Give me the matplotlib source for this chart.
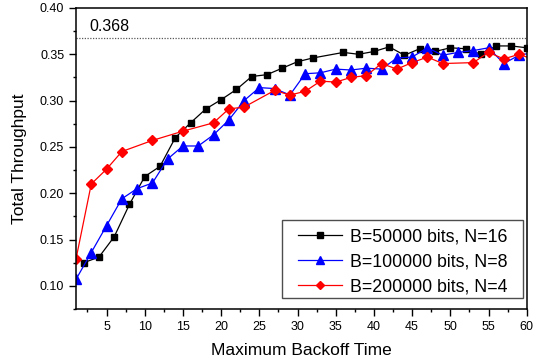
import matplotlib
matplotlib.use("Agg")
import matplotlib.pyplot as plt
from matplotlib.ticker import MultipleLocator
from matplotlib.patches import Rectangle

plt.rcParams["font.family"] = ["Liberation Sans", "DejaVu Sans"]

# B=50000 bits, N=16
x_black = [2, 4, 6, 8, 10, 12, 14, 16, 18, 20, 22, 24, 26, 28, 30, 32,
           36, 38, 40, 42, 44, 46, 48, 50, 52, 54, 56, 58, 60]
y_black = [0.125, 0.131, 0.153, 0.188, 0.218, 0.229, 0.260, 0.276, 0.291,
           0.301, 0.312, 0.326, 0.328, 0.335, 0.342, 0.346,
           0.352, 0.350, 0.353, 0.358, 0.349, 0.356, 0.353, 0.357, 0.356,
           0.350, 0.359, 0.359, 0.357]

# B=100000 bits, N=8
x_blue = [1, 3, 5, 7, 9, 11, 13, 15, 17, 19, 21, 23, 25, 27, 29, 31, 33,
          35, 37, 39, 41, 43, 45, 47, 49, 51, 53, 55, 57, 59, 61]
y_blue = [0.107, 0.136, 0.165, 0.194, 0.205, 0.211, 0.237, 0.251, 0.251,
          0.263, 0.279, 0.300, 0.314, 0.313, 0.306, 0.329, 0.330, 0.334,
          0.333, 0.335, 0.334, 0.346, 0.347, 0.357, 0.349, 0.352, 0.354,
          0.357, 0.340, 0.349, 0.352]

# B=200000 bits, N=4
x_red = [1, 3, 5, 7, 11, 15, 19, 21, 23, 27, 29, 31, 33, 35, 37, 39, 41,
         43, 45, 47, 49, 53, 55, 57, 59, 61]
y_red = [0.129, 0.210, 0.226, 0.245, 0.257, 0.267, 0.276, 0.291, 0.293,
         0.311, 0.306, 0.310, 0.321, 0.320, 0.325, 0.327, 0.340, 0.334,
         0.341, 0.347, 0.340, 0.341, 0.352, 0.345, 0.350, 0.344]

limit_value = 0.368

fig = plt.figure(figsize=(5.33, 3.62), dpi=100)
ax = fig.add_axes([0.1426, 0.1464, 0.8456, 0.8316])

ax.plot(x_black, y_black, color="black", marker="s", markersize=5,
        linewidth=0.9, label="B=50000 bits, N=16")
ax.plot(x_blue, y_blue, color="#0000ff", marker="^", markersize=6.5,
        linewidth=0.9, label="B=100000 bits, N=8")
ax.plot(x_red, y_red, color="#ff0000", marker="D", markersize=5.6,
        linewidth=0.9, label="B=200000 bits, N=4")

ax.axhline(limit_value, color="0.35", linestyle=(0, (1, 1.2)), linewidth=0.9)
ax.text(2.7, 0.3795, "0.368", fontsize=11.5, va="center", ha="left")

ax.set_xlim(1, 60)
ax.set_ylim(0.075, 0.40)
ax.xaxis.set_major_locator(MultipleLocator(5))
ax.xaxis.set_minor_locator(MultipleLocator(2.5))
ax.yaxis.set_major_locator(MultipleLocator(0.05))
ax.yaxis.set_minor_locator(MultipleLocator(0.025))
ax.yaxis.set_major_formatter(plt.FormatStrFormatter("%.2f"))

ax.tick_params(which="major", direction="out", length=5, width=1, labelsize=9)
ax.tick_params(which="minor", direction="out", length=2.5, width=1)
for s in ax.spines.values():
    s.set_linewidth(1.1)

ax.set_xlabel("Maximum Backoff Time", fontsize=12.5, labelpad=7)
ax.set_ylabel("Total Throughput", fontsize=12.5, labelpad=9)

# legend frame drawn separately (Origin-style wide side padding)
ax.add_patch(Rectangle((0.457, 0.0365), 0.535, 0.2595, transform=ax.transAxes,
                       facecolor="white", edgecolor="0.3", linewidth=1.0,
                       zorder=4))
leg = ax.legend(loc="upper left", bbox_to_anchor=(0.4926, 0.268),
                fontsize=12.8, frameon=False, numpoints=1,
                handlelength=2.5, handletextpad=0.4, labelspacing=0.45,
                borderpad=0, borderaxespad=0, markerscale=0.8)
leg.set_zorder(5)

fig.savefig("out.png", dpi=100)
